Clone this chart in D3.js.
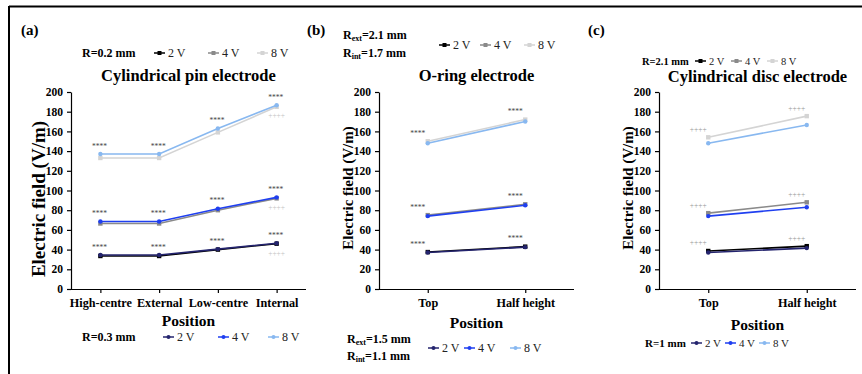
<!DOCTYPE html>
<html><head><meta charset="utf-8">
<script src="https://cdn.jsdelivr.net/npm/d3@7"></script>
<style>
body{margin:0;background:#fff;}
svg{display:block;}
text{font-family:"Liberation Serif","Times New Roman",serif;}
</style></head>
<body>
<svg id="chart" width="862" height="374"></svg>
<script>
// ---------- data ----------
const yTicks = [0,20,40,60,80,100,120,140,160,180,200];
const catsA = ["High-centre","External","Low-centre","Internal"];
const catsBC = ["Top","Half height"];
const voltages = ["2 V","4 V","8 V"];

// panel (a) cylindrical pin: top config R=0.2 mm, bottom config R=0.3 mm
const a02_2V = [33.5,33.5,40,46];
const a02_4V = [66.5,66.5,80,92];
const a02_8V = [133,133,159,185];
const a03_2V = [34.5,34.5,40.5,46.5];
const a03_4V = [68.5,68.5,81.5,93];
const a03_8V = [137,137,163,186.5];
// panel (b) O-ring: top Rext=2.1/Rint=1.7, bottom Rext=1.5/Rint=1.1
const bBig_2V = [37.5,43];
const bBig_4V = [75,86];
const bBig_8V = [150,172];
const bSmall_2V = [37,42.5];
const bSmall_4V = [74,85];
const bSmall_8V = [148,170];
// panel (c) cylindrical disc: top R=2.1 mm, bottom R=1 mm
const c21_2V = [38.6,43.5];
const c21_4V = [77,88];
const c21_8V = [154,175.5];
const c1_2V = [37,41.5];
const c1_4V = [74,83];
const c1_8V = [148,166.5];

// ---------- styles ----------
const topColors = ["#000000","#8a8a8a","#d4d4d4"];
const botColors = ["#24246e","#1f3ff0","#88b8f0"];

const svg = d3.select("#chart");

// frame
svg.append("line").attr("x1",9).attr("x2",862).attr("y1",6.5).attr("y2",6.5).attr("stroke","#000").attr("stroke-width",2);
svg.append("line").attr("x1",9).attr("x2",9).attr("y1",6).attr("y2",374).attr("stroke","#000").attr("stroke-width",2);

function drawPanel(p){
  const g = svg.append("g");
  const x = d3.scalePoint().domain(p.cats).range([p.x0,p.x1]).padding(0.5);
  const y = d3.scaleLinear().domain([0,200]).range([289,92]);

  // y axis
  const ya = g.append("g").attr("transform",`translate(${p.x0},0)`)
    .call(d3.axisLeft(y).tickValues(yTicks).tickSize(4).tickSizeOuter(0));
  ya.select(".domain").attr("stroke-width",1.2);
  ya.selectAll(".tick line").attr("stroke-width",1.2);
  ya.selectAll("text").attr("font-family","Liberation Serif").attr("font-weight","bold")
    .attr("font-size",11.5).attr("fill","#000").attr("dx",-1);

  // x axis
  const xa = g.append("g").attr("transform","translate(0,289)")
    .call(d3.axisBottom(x).tickSize(4).tickSizeOuter(0));
  xa.select(".domain").attr("d",`M${p.x0},0.5H${p.x1}`).attr("stroke-width",1.2);
  xa.selectAll(".tick line").attr("stroke-width",1.2);
  xa.selectAll("text").attr("font-family","Liberation Serif").attr("font-weight","bold")
    .attr("font-size",12.2).attr("fill","#000").attr("dy","0.9em");

  // y label
  g.append("text").attr("transform",`translate(${p.ylx},${p.yly}) rotate(-90)`)
    .attr("text-anchor","middle").attr("dominant-baseline","central")
    .attr("font-weight","bold").attr("font-size",p.ylSize).text("Electric field (V/m)");
  // x label
  g.append("text").attr("x",(p.x0+p.x1)/2).attr("y",p.xly).attr("text-anchor","middle")
    .attr("dominant-baseline","central").attr("font-weight","bold").attr("font-size",15.5).text("Position");
  // title
  g.append("text").attr("x",(p.x0+p.x1)/2).attr("y",p.ty).attr("text-anchor","middle")
    .attr("dominant-baseline","central").attr("font-weight","bold").attr("font-size",16.5).text(p.title);
  // panel letter
  g.append("text").attr("x",p.lx).attr("y",30).attr("dominant-baseline","central")
    .attr("font-weight","bold").attr("font-size",15).text(p.letter);

  const line = d3.line().x((d,i)=>x(p.cats[i])).y(d=>y(d));
  function series(vals,color,shape){
    g.append("path").datum(vals).attr("d",line).attr("fill","none").attr("stroke",color).attr("stroke-width",1.6);
    if(shape==="sq"){
      g.selectAll(null).data(vals).enter().append("rect")
        .attr("x",(d,i)=>x(p.cats[i])-2.2).attr("y",d=>y(d)-2.2).attr("width",4.4).attr("height",4.4).attr("fill",color);
    } else {
      g.selectAll(null).data(vals).enter().append("circle")
        .attr("cx",(d,i)=>x(p.cats[i])).attr("cy",d=>y(d)).attr("r",2.2).attr("fill",color);
    }
  }
  p.top.forEach((v,k)=>series(v,topColors[k],"sq"));
  p.bot.forEach((v,k)=>series(v,botColors[k],"ci"));

  // significance marks above each level
  p.cats.forEach((c,i)=>{
    for(let k=0;k<3;k++){
      const m = Math.max(p.top[k][i],p.bot[k][i]);
      g.append("text").attr("x",x(c)+p.markDx).attr("y",y(m)-8).attr("text-anchor","middle")
        .attr("dominant-baseline","central").attr("font-size",7.5).attr("font-family","DejaVu Sans")
        .attr("fill",p.markColor).text(p.mark);
    }
  });
  if(p.extra){
    const c = p.cats[p.cats.length-1], i = p.cats.length-1;
    for(let k=0;k<3;k++){
      const m = Math.max(p.top[k][i],p.bot[k][i]);
      g.append("text").attr("x",x(c)).attr("y",y(m)+10).attr("text-anchor","middle")
        .attr("dominant-baseline","central").attr("font-size",7.5).attr("font-family","DejaVu Sans")
        .attr("fill","#c4c4c4").text("++++");
    }
  }

  // legends
  function legend(L,colors,shape){
    const fs = L.fs || 12;
    L.labels.forEach(lb=>{
      const t = g.append("text").attr("x",lb.x).attr("y",lb.y).attr("dominant-baseline","central")
        .attr("font-weight","bold").attr("font-size",fs);
      t.append("tspan").text("R");
      if(lb.sub){
        t.append("tspan").attr("font-size",fs*0.67).attr("dy",3).text(lb.sub);
        t.append("tspan").attr("dy",-3).text(lb.rest);
      } else t.append("tspan").text(lb.rest);
    });
    voltages.forEach((v,k)=>{
      const lx = L.items[k];
      g.append("line").attr("x1",lx).attr("x2",lx+11).attr("y1",L.y).attr("y2",L.y)
        .attr("stroke",colors[k]).attr("stroke-width",1.5);
      if(shape==="sq") g.append("rect").attr("x",lx+5.5-2).attr("y",L.y-2).attr("width",4).attr("height",4).attr("fill",colors[k]);
      else g.append("circle").attr("cx",lx+5.5).attr("cy",L.y).attr("r",2).attr("fill",colors[k]);
      g.append("text").attr("x",lx+14).attr("y",L.y).attr("dominant-baseline","central")
        .attr("font-size",fs).attr("fill","#222").text(v);
    });
  }
  legend(p.legTop,topColors,"sq");
  legend(p.legBot,botColors,"ci");
}

drawPanel({
  cats:catsA, x0:71, x1:306, title:"Cylindrical pin electrode", letter:"(a)", lx:21, ty:75,
  ylx:38, yly:199, ylSize:19, xly:320,
  top:[a02_2V,a02_4V,a02_8V], bot:[a03_2V,a03_4V,a03_8V],
  mark:"****", markColor:"#444", markDx:-1, extra:true,
  legTop:{labels:[{x:82,y:53,rest:"=0.2 mm"}], y:53, items:[154,208,257]},
  legBot:{labels:[{x:82,y:337,rest:"=0.3 mm"}], y:337, items:[163,218,268]}
});
drawPanel({
  cats:catsBC, x0:379, x1:574, title:"O-ring electrode", letter:"(b)", lx:307, ty:75,
  ylx:348, yly:188, ylSize:15, xly:322,
  top:[bBig_2V,bBig_4V,bBig_8V], bot:[bSmall_2V,bSmall_4V,bSmall_8V],
  mark:"****", markColor:"#444", markDx:-10, extra:false,
  legTop:{labels:[{x:343,y:35,sub:"ext",rest:"=2.1 mm"},{x:343,y:53,sub:"int",rest:"=1.7 mm"}], y:45, items:[439,480,524]},
  legBot:{labels:[{x:347,y:339,sub:"ext",rest:"=1.5 mm"},{x:347,y:356,sub:"int",rest:"=1.1 mm"}], y:348, items:[428,464,510]}
});
drawPanel({
  cats:catsBC, x0:659, x1:856, title:"Cylindrical disc electrode", letter:"(c)", lx:588, ty:76,
  ylx:628, yly:188, ylSize:15, xly:324,
  top:[c21_2V,c21_4V,c21_8V], bot:[c1_2V,c1_4V,c1_8V],
  mark:"++++", markColor:"#999", markDx:-10, extra:false,
  legTop:{labels:[{x:642,y:61,rest:"=2.1 mm"}], y:61, items:[695,731,767], fs:10.5},
  legBot:{labels:[{x:645,y:343,rest:"=1 mm"}], y:343, items:[691,725,759], fs:11}
});
</script>
</body></html>
